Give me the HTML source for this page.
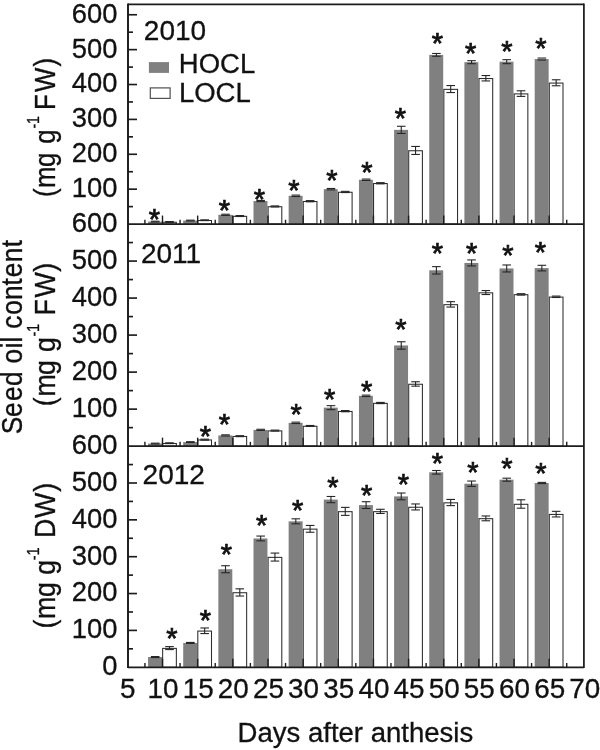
<!DOCTYPE html>
<html><head><meta charset="utf-8"><title>Seed oil content</title>
<style>html,body{margin:0;padding:0;background:#fff}svg{display:block;filter:blur(0.45px)}text{font-family:"Liberation Sans",Arial,sans-serif;fill:#111;stroke:#111;stroke-width:0.3px}</style>
</head><body>
<svg width="600" height="750" viewBox="0 0 600 750">
<rect x="0" y="0" width="600" height="750" fill="#fff"/>
<rect x="148.05" y="221.61" width="13.95" height="2.44" fill="#808080"/>
<rect x="162.65" y="222.26" width="13.7" height="1.79" fill="#fff" stroke="#2c2c2c" stroke-width="1.05"/>
<line x1="150.90" y1="221.21" x2="159.50" y2="221.21" stroke="#262626" stroke-width="1.1"/>
<line x1="150.90" y1="222.01" x2="159.50" y2="222.01" stroke="#262626" stroke-width="1.1"/>
<line x1="165.20" y1="221.56" x2="173.80" y2="221.56" stroke="#262626" stroke-width="1.1"/>
<line x1="165.20" y1="222.36" x2="173.80" y2="222.36" stroke="#262626" stroke-width="1.1"/>
<rect x="183.20" y="220.56" width="13.95" height="3.49" fill="#808080"/>
<rect x="197.80" y="220.51" width="13.7" height="3.54" fill="#fff" stroke="#2c2c2c" stroke-width="1.05"/>
<line x1="186.05" y1="220.16" x2="194.65" y2="220.16" stroke="#262626" stroke-width="1.1"/>
<line x1="186.05" y1="220.96" x2="194.65" y2="220.96" stroke="#262626" stroke-width="1.1"/>
<line x1="200.35" y1="219.81" x2="208.95" y2="219.81" stroke="#262626" stroke-width="1.1"/>
<line x1="200.35" y1="220.61" x2="208.95" y2="220.61" stroke="#262626" stroke-width="1.1"/>
<rect x="218.35" y="214.81" width="13.95" height="9.24" fill="#808080"/>
<rect x="232.95" y="216.33" width="13.7" height="7.72" fill="#fff" stroke="#2c2c2c" stroke-width="1.05"/>
<line x1="221.20" y1="214.21" x2="229.80" y2="214.21" stroke="#262626" stroke-width="1.1"/>
<line x1="221.20" y1="215.41" x2="229.80" y2="215.41" stroke="#262626" stroke-width="1.1"/>
<line x1="235.50" y1="215.53" x2="244.10" y2="215.53" stroke="#262626" stroke-width="1.1"/>
<line x1="235.50" y1="216.53" x2="244.10" y2="216.53" stroke="#262626" stroke-width="1.1"/>
<rect x="253.50" y="201.03" width="13.95" height="23.02" fill="#808080"/>
<rect x="268.10" y="206.73" width="13.7" height="17.32" fill="#fff" stroke="#2c2c2c" stroke-width="1.05"/>
<line x1="256.35" y1="200.43" x2="264.95" y2="200.43" stroke="#262626" stroke-width="1.1"/>
<line x1="256.35" y1="201.63" x2="264.95" y2="201.63" stroke="#262626" stroke-width="1.1"/>
<line x1="270.65" y1="205.93" x2="279.25" y2="205.93" stroke="#262626" stroke-width="1.1"/>
<line x1="270.65" y1="206.93" x2="279.25" y2="206.93" stroke="#262626" stroke-width="1.1"/>
<rect x="288.65" y="195.79" width="13.95" height="28.26" fill="#808080"/>
<rect x="303.25" y="201.50" width="13.7" height="22.55" fill="#fff" stroke="#2c2c2c" stroke-width="1.05"/>
<line x1="291.50" y1="195.09" x2="300.10" y2="195.09" stroke="#262626" stroke-width="1.1"/>
<line x1="291.50" y1="196.49" x2="300.10" y2="196.49" stroke="#262626" stroke-width="1.1"/>
<line x1="305.80" y1="200.60" x2="314.40" y2="200.60" stroke="#262626" stroke-width="1.1"/>
<line x1="305.80" y1="201.80" x2="314.40" y2="201.80" stroke="#262626" stroke-width="1.1"/>
<rect x="323.80" y="189.17" width="13.95" height="34.88" fill="#808080"/>
<rect x="338.40" y="192.26" width="13.7" height="31.79" fill="#fff" stroke="#2c2c2c" stroke-width="1.05"/>
<line x1="326.65" y1="188.47" x2="335.25" y2="188.47" stroke="#262626" stroke-width="1.1"/>
<line x1="326.65" y1="189.87" x2="335.25" y2="189.87" stroke="#262626" stroke-width="1.1"/>
<line x1="340.95" y1="191.36" x2="349.55" y2="191.36" stroke="#262626" stroke-width="1.1"/>
<line x1="340.95" y1="192.56" x2="349.55" y2="192.56" stroke="#262626" stroke-width="1.1"/>
<rect x="358.95" y="179.75" width="13.95" height="44.30" fill="#808080"/>
<rect x="373.55" y="183.54" width="13.7" height="40.51" fill="#fff" stroke="#2c2c2c" stroke-width="1.05"/>
<line x1="361.80" y1="179.05" x2="370.40" y2="179.05" stroke="#262626" stroke-width="1.1"/>
<line x1="361.80" y1="180.45" x2="370.40" y2="180.45" stroke="#262626" stroke-width="1.1"/>
<line x1="376.10" y1="182.64" x2="384.70" y2="182.64" stroke="#262626" stroke-width="1.1"/>
<line x1="376.10" y1="183.84" x2="384.70" y2="183.84" stroke="#262626" stroke-width="1.1"/>
<rect x="394.10" y="129.87" width="13.95" height="94.19" fill="#808080"/>
<rect x="408.70" y="150.75" width="13.7" height="73.30" fill="#fff" stroke="#2c2c2c" stroke-width="1.05"/>
<line x1="401.25" y1="126.27" x2="401.25" y2="133.47" stroke="#262626" stroke-width="1.1"/>
<line x1="396.95" y1="126.27" x2="405.55" y2="126.27" stroke="#262626" stroke-width="1.1"/>
<line x1="396.95" y1="133.47" x2="405.55" y2="133.47" stroke="#262626" stroke-width="1.1"/>
<line x1="415.55" y1="146.45" x2="415.55" y2="154.45" stroke="#262626" stroke-width="1.1"/>
<line x1="411.25" y1="146.45" x2="419.85" y2="146.45" stroke="#262626" stroke-width="1.1"/>
<line x1="411.25" y1="154.45" x2="419.85" y2="154.45" stroke="#262626" stroke-width="1.1"/>
<rect x="429.25" y="54.87" width="13.95" height="169.18" fill="#808080"/>
<rect x="443.85" y="89.35" width="13.7" height="134.70" fill="#fff" stroke="#2c2c2c" stroke-width="1.05"/>
<line x1="436.40" y1="53.47" x2="436.40" y2="56.27" stroke="#262626" stroke-width="1.1"/>
<line x1="432.10" y1="53.47" x2="440.70" y2="53.47" stroke="#262626" stroke-width="1.1"/>
<line x1="432.10" y1="56.27" x2="440.70" y2="56.27" stroke="#262626" stroke-width="1.1"/>
<line x1="450.70" y1="85.55" x2="450.70" y2="92.55" stroke="#262626" stroke-width="1.1"/>
<line x1="446.40" y1="85.55" x2="455.00" y2="85.55" stroke="#262626" stroke-width="1.1"/>
<line x1="446.40" y1="92.55" x2="455.00" y2="92.55" stroke="#262626" stroke-width="1.1"/>
<rect x="464.40" y="62.19" width="13.95" height="161.86" fill="#808080"/>
<rect x="479.00" y="78.54" width="13.7" height="145.51" fill="#fff" stroke="#2c2c2c" stroke-width="1.05"/>
<line x1="471.55" y1="60.69" x2="471.55" y2="63.69" stroke="#262626" stroke-width="1.1"/>
<line x1="467.25" y1="60.69" x2="475.85" y2="60.69" stroke="#262626" stroke-width="1.1"/>
<line x1="467.25" y1="63.69" x2="475.85" y2="63.69" stroke="#262626" stroke-width="1.1"/>
<line x1="485.85" y1="75.54" x2="485.85" y2="80.94" stroke="#262626" stroke-width="1.1"/>
<line x1="481.55" y1="75.54" x2="490.15" y2="75.54" stroke="#262626" stroke-width="1.1"/>
<line x1="481.55" y1="80.94" x2="490.15" y2="80.94" stroke="#262626" stroke-width="1.1"/>
<rect x="499.55" y="61.67" width="13.95" height="162.38" fill="#808080"/>
<rect x="514.15" y="93.89" width="13.7" height="130.16" fill="#fff" stroke="#2c2c2c" stroke-width="1.05"/>
<line x1="506.70" y1="59.67" x2="506.70" y2="63.67" stroke="#262626" stroke-width="1.1"/>
<line x1="502.40" y1="59.67" x2="511.00" y2="59.67" stroke="#262626" stroke-width="1.1"/>
<line x1="502.40" y1="63.67" x2="511.00" y2="63.67" stroke="#262626" stroke-width="1.1"/>
<line x1="521.00" y1="90.79" x2="521.00" y2="96.39" stroke="#262626" stroke-width="1.1"/>
<line x1="516.70" y1="90.79" x2="525.30" y2="90.79" stroke="#262626" stroke-width="1.1"/>
<line x1="516.70" y1="96.39" x2="525.30" y2="96.39" stroke="#262626" stroke-width="1.1"/>
<rect x="534.70" y="59.05" width="13.95" height="165.00" fill="#808080"/>
<rect x="549.30" y="83.07" width="13.7" height="140.98" fill="#fff" stroke="#2c2c2c" stroke-width="1.05"/>
<line x1="537.55" y1="58.05" x2="546.15" y2="58.05" stroke="#262626" stroke-width="1.1"/>
<line x1="537.55" y1="60.05" x2="546.15" y2="60.05" stroke="#262626" stroke-width="1.1"/>
<line x1="556.15" y1="79.77" x2="556.15" y2="85.77" stroke="#262626" stroke-width="1.1"/>
<line x1="551.85" y1="79.77" x2="560.45" y2="79.77" stroke="#262626" stroke-width="1.1"/>
<line x1="551.85" y1="85.77" x2="560.45" y2="85.77" stroke="#262626" stroke-width="1.1"/>
<rect x="148.05" y="443.56" width="13.95" height="2.59" fill="#808080"/>
<rect x="162.65" y="443.49" width="13.7" height="2.66" fill="#fff" stroke="#2c2c2c" stroke-width="1.05"/>
<line x1="150.90" y1="443.16" x2="159.50" y2="443.16" stroke="#262626" stroke-width="1.1"/>
<line x1="150.90" y1="443.96" x2="159.50" y2="443.96" stroke="#262626" stroke-width="1.1"/>
<line x1="165.20" y1="442.79" x2="173.80" y2="442.79" stroke="#262626" stroke-width="1.1"/>
<line x1="165.20" y1="443.59" x2="173.80" y2="443.59" stroke="#262626" stroke-width="1.1"/>
<rect x="183.20" y="442.08" width="13.95" height="4.07" fill="#808080"/>
<rect x="197.80" y="439.97" width="13.7" height="6.18" fill="#fff" stroke="#2c2c2c" stroke-width="1.05"/>
<line x1="186.05" y1="441.68" x2="194.65" y2="441.68" stroke="#262626" stroke-width="1.1"/>
<line x1="186.05" y1="442.48" x2="194.65" y2="442.48" stroke="#262626" stroke-width="1.1"/>
<line x1="200.35" y1="439.17" x2="208.95" y2="439.17" stroke="#262626" stroke-width="1.1"/>
<line x1="200.35" y1="440.17" x2="208.95" y2="440.17" stroke="#262626" stroke-width="1.1"/>
<rect x="218.35" y="435.42" width="13.95" height="10.73" fill="#808080"/>
<rect x="232.95" y="436.46" width="13.7" height="9.69" fill="#fff" stroke="#2c2c2c" stroke-width="1.05"/>
<line x1="221.20" y1="434.82" x2="229.80" y2="434.82" stroke="#262626" stroke-width="1.1"/>
<line x1="221.20" y1="436.02" x2="229.80" y2="436.02" stroke="#262626" stroke-width="1.1"/>
<line x1="235.50" y1="435.66" x2="244.10" y2="435.66" stroke="#262626" stroke-width="1.1"/>
<line x1="235.50" y1="436.66" x2="244.10" y2="436.66" stroke="#262626" stroke-width="1.1"/>
<rect x="253.50" y="429.86" width="13.95" height="16.29" fill="#808080"/>
<rect x="268.10" y="430.90" width="13.7" height="15.25" fill="#fff" stroke="#2c2c2c" stroke-width="1.05"/>
<line x1="256.35" y1="429.26" x2="264.95" y2="429.26" stroke="#262626" stroke-width="1.1"/>
<line x1="256.35" y1="430.46" x2="264.95" y2="430.46" stroke="#262626" stroke-width="1.1"/>
<line x1="270.65" y1="430.10" x2="279.25" y2="430.10" stroke="#262626" stroke-width="1.1"/>
<line x1="270.65" y1="431.10" x2="279.25" y2="431.10" stroke="#262626" stroke-width="1.1"/>
<rect x="288.65" y="422.83" width="13.95" height="23.32" fill="#808080"/>
<rect x="303.25" y="426.28" width="13.7" height="19.87" fill="#fff" stroke="#2c2c2c" stroke-width="1.05"/>
<line x1="291.50" y1="422.13" x2="300.10" y2="422.13" stroke="#262626" stroke-width="1.1"/>
<line x1="291.50" y1="423.53" x2="300.10" y2="423.53" stroke="#262626" stroke-width="1.1"/>
<line x1="305.80" y1="425.48" x2="314.40" y2="425.48" stroke="#262626" stroke-width="1.1"/>
<line x1="305.80" y1="426.48" x2="314.40" y2="426.48" stroke="#262626" stroke-width="1.1"/>
<rect x="323.80" y="407.65" width="13.95" height="38.50" fill="#808080"/>
<rect x="338.40" y="411.47" width="13.7" height="34.68" fill="#fff" stroke="#2c2c2c" stroke-width="1.05"/>
<line x1="330.95" y1="405.65" x2="330.95" y2="409.65" stroke="#262626" stroke-width="1.1"/>
<line x1="326.65" y1="405.65" x2="335.25" y2="405.65" stroke="#262626" stroke-width="1.1"/>
<line x1="326.65" y1="409.65" x2="335.25" y2="409.65" stroke="#262626" stroke-width="1.1"/>
<line x1="340.95" y1="410.57" x2="349.55" y2="410.57" stroke="#262626" stroke-width="1.1"/>
<line x1="340.95" y1="411.77" x2="349.55" y2="411.77" stroke="#262626" stroke-width="1.1"/>
<rect x="358.95" y="395.81" width="13.95" height="50.34" fill="#808080"/>
<rect x="373.55" y="403.33" width="13.7" height="42.82" fill="#fff" stroke="#2c2c2c" stroke-width="1.05"/>
<line x1="361.80" y1="395.11" x2="370.40" y2="395.11" stroke="#262626" stroke-width="1.1"/>
<line x1="361.80" y1="396.51" x2="370.40" y2="396.51" stroke="#262626" stroke-width="1.1"/>
<line x1="376.10" y1="402.43" x2="384.70" y2="402.43" stroke="#262626" stroke-width="1.1"/>
<line x1="376.10" y1="403.63" x2="384.70" y2="403.63" stroke="#262626" stroke-width="1.1"/>
<rect x="394.10" y="345.46" width="13.95" height="100.69" fill="#808080"/>
<rect x="408.70" y="384.26" width="13.7" height="61.89" fill="#fff" stroke="#2c2c2c" stroke-width="1.05"/>
<line x1="401.25" y1="341.76" x2="401.25" y2="349.16" stroke="#262626" stroke-width="1.1"/>
<line x1="396.95" y1="341.76" x2="405.55" y2="341.76" stroke="#262626" stroke-width="1.1"/>
<line x1="396.95" y1="349.16" x2="405.55" y2="349.16" stroke="#262626" stroke-width="1.1"/>
<line x1="415.55" y1="381.76" x2="415.55" y2="386.16" stroke="#262626" stroke-width="1.1"/>
<line x1="411.25" y1="381.76" x2="419.85" y2="381.76" stroke="#262626" stroke-width="1.1"/>
<line x1="411.25" y1="386.16" x2="419.85" y2="386.16" stroke="#262626" stroke-width="1.1"/>
<rect x="429.25" y="270.32" width="13.95" height="175.83" fill="#808080"/>
<rect x="443.85" y="304.68" width="13.7" height="141.47" fill="#fff" stroke="#2c2c2c" stroke-width="1.05"/>
<line x1="436.40" y1="266.62" x2="436.40" y2="274.02" stroke="#262626" stroke-width="1.1"/>
<line x1="432.10" y1="266.62" x2="440.70" y2="266.62" stroke="#262626" stroke-width="1.1"/>
<line x1="432.10" y1="274.02" x2="440.70" y2="274.02" stroke="#262626" stroke-width="1.1"/>
<line x1="450.70" y1="301.68" x2="450.70" y2="307.08" stroke="#262626" stroke-width="1.1"/>
<line x1="446.40" y1="301.68" x2="455.00" y2="301.68" stroke="#262626" stroke-width="1.1"/>
<line x1="446.40" y1="307.08" x2="455.00" y2="307.08" stroke="#262626" stroke-width="1.1"/>
<rect x="464.40" y="262.92" width="13.95" height="183.23" fill="#808080"/>
<rect x="479.00" y="292.83" width="13.7" height="153.32" fill="#fff" stroke="#2c2c2c" stroke-width="1.05"/>
<line x1="471.55" y1="259.92" x2="471.55" y2="265.92" stroke="#262626" stroke-width="1.1"/>
<line x1="467.25" y1="259.92" x2="475.85" y2="259.92" stroke="#262626" stroke-width="1.1"/>
<line x1="467.25" y1="265.92" x2="475.85" y2="265.92" stroke="#262626" stroke-width="1.1"/>
<line x1="485.85" y1="290.53" x2="485.85" y2="294.53" stroke="#262626" stroke-width="1.1"/>
<line x1="481.55" y1="290.53" x2="490.15" y2="290.53" stroke="#262626" stroke-width="1.1"/>
<line x1="481.55" y1="294.53" x2="490.15" y2="294.53" stroke="#262626" stroke-width="1.1"/>
<rect x="499.55" y="268.47" width="13.95" height="177.68" fill="#808080"/>
<rect x="514.15" y="294.68" width="13.7" height="151.47" fill="#fff" stroke="#2c2c2c" stroke-width="1.05"/>
<line x1="506.70" y1="264.97" x2="506.70" y2="271.97" stroke="#262626" stroke-width="1.1"/>
<line x1="502.40" y1="264.97" x2="511.00" y2="264.97" stroke="#262626" stroke-width="1.1"/>
<line x1="502.40" y1="271.97" x2="511.00" y2="271.97" stroke="#262626" stroke-width="1.1"/>
<line x1="516.70" y1="293.68" x2="525.30" y2="293.68" stroke="#262626" stroke-width="1.1"/>
<line x1="516.70" y1="295.08" x2="525.30" y2="295.08" stroke="#262626" stroke-width="1.1"/>
<rect x="534.70" y="268.10" width="13.95" height="178.05" fill="#808080"/>
<rect x="549.30" y="297.09" width="13.7" height="149.06" fill="#fff" stroke="#2c2c2c" stroke-width="1.05"/>
<line x1="541.85" y1="265.30" x2="541.85" y2="270.90" stroke="#262626" stroke-width="1.1"/>
<line x1="537.55" y1="265.30" x2="546.15" y2="265.30" stroke="#262626" stroke-width="1.1"/>
<line x1="537.55" y1="270.90" x2="546.15" y2="270.90" stroke="#262626" stroke-width="1.1"/>
<line x1="551.85" y1="296.09" x2="560.45" y2="296.09" stroke="#262626" stroke-width="1.1"/>
<line x1="551.85" y1="297.49" x2="560.45" y2="297.49" stroke="#262626" stroke-width="1.1"/>
<rect x="148.05" y="657.04" width="13.95" height="10.21" fill="#808080"/>
<rect x="162.65" y="648.39" width="13.7" height="18.86" fill="#fff" stroke="#2c2c2c" stroke-width="1.05"/>
<line x1="150.90" y1="656.54" x2="159.50" y2="656.54" stroke="#262626" stroke-width="1.1"/>
<line x1="150.90" y1="657.54" x2="159.50" y2="657.54" stroke="#262626" stroke-width="1.1"/>
<line x1="169.50" y1="646.59" x2="169.50" y2="649.59" stroke="#262626" stroke-width="1.1"/>
<line x1="165.20" y1="646.59" x2="173.80" y2="646.59" stroke="#262626" stroke-width="1.1"/>
<line x1="165.20" y1="649.59" x2="173.80" y2="649.59" stroke="#262626" stroke-width="1.1"/>
<rect x="183.20" y="642.93" width="13.95" height="24.32" fill="#808080"/>
<rect x="197.80" y="631.07" width="13.7" height="36.18" fill="#fff" stroke="#2c2c2c" stroke-width="1.05"/>
<line x1="186.05" y1="642.43" x2="194.65" y2="642.43" stroke="#262626" stroke-width="1.1"/>
<line x1="186.05" y1="643.43" x2="194.65" y2="643.43" stroke="#262626" stroke-width="1.1"/>
<line x1="204.65" y1="627.97" x2="204.65" y2="633.57" stroke="#262626" stroke-width="1.1"/>
<line x1="200.35" y1="627.97" x2="208.95" y2="627.97" stroke="#262626" stroke-width="1.1"/>
<line x1="200.35" y1="633.57" x2="208.95" y2="633.57" stroke="#262626" stroke-width="1.1"/>
<rect x="218.35" y="569.23" width="13.95" height="98.02" fill="#808080"/>
<rect x="232.95" y="592.74" width="13.7" height="74.51" fill="#fff" stroke="#2c2c2c" stroke-width="1.05"/>
<line x1="225.50" y1="565.73" x2="225.50" y2="572.73" stroke="#262626" stroke-width="1.1"/>
<line x1="221.20" y1="565.73" x2="229.80" y2="565.73" stroke="#262626" stroke-width="1.1"/>
<line x1="221.20" y1="572.73" x2="229.80" y2="572.73" stroke="#262626" stroke-width="1.1"/>
<line x1="239.80" y1="588.84" x2="239.80" y2="596.04" stroke="#262626" stroke-width="1.1"/>
<line x1="235.50" y1="588.84" x2="244.10" y2="588.84" stroke="#262626" stroke-width="1.1"/>
<line x1="235.50" y1="596.04" x2="244.10" y2="596.04" stroke="#262626" stroke-width="1.1"/>
<rect x="253.50" y="538.46" width="13.95" height="128.79" fill="#808080"/>
<rect x="268.10" y="557.37" width="13.7" height="109.88" fill="#fff" stroke="#2c2c2c" stroke-width="1.05"/>
<line x1="260.65" y1="536.06" x2="260.65" y2="540.86" stroke="#262626" stroke-width="1.1"/>
<line x1="256.35" y1="536.06" x2="264.95" y2="536.06" stroke="#262626" stroke-width="1.1"/>
<line x1="256.35" y1="540.86" x2="264.95" y2="540.86" stroke="#262626" stroke-width="1.1"/>
<line x1="274.95" y1="553.07" x2="274.95" y2="561.07" stroke="#262626" stroke-width="1.1"/>
<line x1="270.65" y1="553.07" x2="279.25" y2="553.07" stroke="#262626" stroke-width="1.1"/>
<line x1="270.65" y1="561.07" x2="279.25" y2="561.07" stroke="#262626" stroke-width="1.1"/>
<rect x="288.65" y="521.32" width="13.95" height="145.93" fill="#808080"/>
<rect x="303.25" y="529.14" width="13.7" height="138.11" fill="#fff" stroke="#2c2c2c" stroke-width="1.05"/>
<line x1="295.80" y1="518.82" x2="295.80" y2="523.82" stroke="#262626" stroke-width="1.1"/>
<line x1="291.50" y1="518.82" x2="300.10" y2="518.82" stroke="#262626" stroke-width="1.1"/>
<line x1="291.50" y1="523.82" x2="300.10" y2="523.82" stroke="#262626" stroke-width="1.1"/>
<line x1="310.10" y1="525.44" x2="310.10" y2="532.24" stroke="#262626" stroke-width="1.1"/>
<line x1="305.80" y1="525.44" x2="314.40" y2="525.44" stroke="#262626" stroke-width="1.1"/>
<line x1="305.80" y1="532.24" x2="314.40" y2="532.24" stroke="#262626" stroke-width="1.1"/>
<rect x="323.80" y="499.58" width="13.95" height="167.67" fill="#808080"/>
<rect x="338.40" y="511.67" width="13.7" height="155.58" fill="#fff" stroke="#2c2c2c" stroke-width="1.05"/>
<line x1="330.95" y1="496.48" x2="330.95" y2="502.68" stroke="#262626" stroke-width="1.1"/>
<line x1="326.65" y1="496.48" x2="335.25" y2="496.48" stroke="#262626" stroke-width="1.1"/>
<line x1="326.65" y1="502.68" x2="335.25" y2="502.68" stroke="#262626" stroke-width="1.1"/>
<line x1="345.25" y1="507.37" x2="345.25" y2="515.37" stroke="#262626" stroke-width="1.1"/>
<line x1="340.95" y1="507.37" x2="349.55" y2="507.37" stroke="#262626" stroke-width="1.1"/>
<line x1="340.95" y1="515.37" x2="349.55" y2="515.37" stroke="#262626" stroke-width="1.1"/>
<rect x="358.95" y="505.11" width="13.95" height="162.14" fill="#808080"/>
<rect x="373.55" y="511.67" width="13.7" height="155.58" fill="#fff" stroke="#2c2c2c" stroke-width="1.05"/>
<line x1="366.10" y1="501.71" x2="366.10" y2="508.51" stroke="#262626" stroke-width="1.1"/>
<line x1="361.80" y1="501.71" x2="370.40" y2="501.71" stroke="#262626" stroke-width="1.1"/>
<line x1="361.80" y1="508.51" x2="370.40" y2="508.51" stroke="#262626" stroke-width="1.1"/>
<line x1="380.40" y1="509.27" x2="380.40" y2="513.47" stroke="#262626" stroke-width="1.1"/>
<line x1="376.10" y1="509.27" x2="384.70" y2="509.27" stroke="#262626" stroke-width="1.1"/>
<line x1="376.10" y1="513.47" x2="384.70" y2="513.47" stroke="#262626" stroke-width="1.1"/>
<rect x="394.10" y="496.41" width="13.95" height="170.84" fill="#808080"/>
<rect x="408.70" y="507.25" width="13.7" height="160.00" fill="#fff" stroke="#2c2c2c" stroke-width="1.05"/>
<line x1="401.25" y1="493.01" x2="401.25" y2="499.81" stroke="#262626" stroke-width="1.1"/>
<line x1="396.95" y1="493.01" x2="405.55" y2="493.01" stroke="#262626" stroke-width="1.1"/>
<line x1="396.95" y1="499.81" x2="405.55" y2="499.81" stroke="#262626" stroke-width="1.1"/>
<line x1="415.55" y1="503.95" x2="415.55" y2="509.95" stroke="#262626" stroke-width="1.1"/>
<line x1="411.25" y1="503.95" x2="419.85" y2="503.95" stroke="#262626" stroke-width="1.1"/>
<line x1="411.25" y1="509.95" x2="419.85" y2="509.95" stroke="#262626" stroke-width="1.1"/>
<rect x="429.25" y="472.31" width="13.95" height="194.94" fill="#808080"/>
<rect x="443.85" y="502.83" width="13.7" height="164.42" fill="#fff" stroke="#2c2c2c" stroke-width="1.05"/>
<line x1="436.40" y1="470.51" x2="436.40" y2="474.11" stroke="#262626" stroke-width="1.1"/>
<line x1="432.10" y1="470.51" x2="440.70" y2="470.51" stroke="#262626" stroke-width="1.1"/>
<line x1="432.10" y1="474.11" x2="440.70" y2="474.11" stroke="#262626" stroke-width="1.1"/>
<line x1="450.70" y1="499.43" x2="450.70" y2="505.63" stroke="#262626" stroke-width="1.1"/>
<line x1="446.40" y1="499.43" x2="455.00" y2="499.43" stroke="#262626" stroke-width="1.1"/>
<line x1="446.40" y1="505.63" x2="455.00" y2="505.63" stroke="#262626" stroke-width="1.1"/>
<rect x="464.40" y="483.74" width="13.95" height="183.51" fill="#808080"/>
<rect x="479.00" y="518.68" width="13.7" height="148.57" fill="#fff" stroke="#2c2c2c" stroke-width="1.05"/>
<line x1="471.55" y1="481.04" x2="471.55" y2="486.44" stroke="#262626" stroke-width="1.1"/>
<line x1="467.25" y1="481.04" x2="475.85" y2="481.04" stroke="#262626" stroke-width="1.1"/>
<line x1="467.25" y1="486.44" x2="475.85" y2="486.44" stroke="#262626" stroke-width="1.1"/>
<line x1="485.85" y1="515.98" x2="485.85" y2="520.78" stroke="#262626" stroke-width="1.1"/>
<line x1="481.55" y1="515.98" x2="490.15" y2="515.98" stroke="#262626" stroke-width="1.1"/>
<line x1="481.55" y1="520.78" x2="490.15" y2="520.78" stroke="#262626" stroke-width="1.1"/>
<rect x="499.55" y="479.68" width="13.95" height="187.57" fill="#808080"/>
<rect x="514.15" y="504.30" width="13.7" height="162.95" fill="#fff" stroke="#2c2c2c" stroke-width="1.05"/>
<line x1="506.70" y1="478.18" x2="506.70" y2="481.18" stroke="#262626" stroke-width="1.1"/>
<line x1="502.40" y1="478.18" x2="511.00" y2="478.18" stroke="#262626" stroke-width="1.1"/>
<line x1="502.40" y1="481.18" x2="511.00" y2="481.18" stroke="#262626" stroke-width="1.1"/>
<line x1="521.00" y1="499.80" x2="521.00" y2="508.20" stroke="#262626" stroke-width="1.1"/>
<line x1="516.70" y1="499.80" x2="525.30" y2="499.80" stroke="#262626" stroke-width="1.1"/>
<line x1="516.70" y1="508.20" x2="525.30" y2="508.20" stroke="#262626" stroke-width="1.1"/>
<rect x="534.70" y="483.00" width="13.95" height="184.25" fill="#808080"/>
<rect x="549.30" y="514.44" width="13.7" height="152.81" fill="#fff" stroke="#2c2c2c" stroke-width="1.05"/>
<line x1="537.55" y1="482.40" x2="546.15" y2="482.40" stroke="#262626" stroke-width="1.1"/>
<line x1="537.55" y1="483.60" x2="546.15" y2="483.60" stroke="#262626" stroke-width="1.1"/>
<line x1="556.15" y1="511.34" x2="556.15" y2="516.94" stroke="#262626" stroke-width="1.1"/>
<line x1="551.85" y1="511.34" x2="560.45" y2="511.34" stroke="#262626" stroke-width="1.1"/>
<line x1="551.85" y1="516.94" x2="560.45" y2="516.94" stroke="#262626" stroke-width="1.1"/>
<line x1="128.00" y1="3.50" x2="128.00" y2="668.10" stroke="#1c1c1c" stroke-width="1.95"/>
<line x1="583.90" y1="3.50" x2="583.90" y2="668.10" stroke="#1c1c1c" stroke-width="1.75"/>
<line x1="128.00" y1="4.35" x2="583.90" y2="4.35" stroke="#1c1c1c" stroke-width="1.75"/>
<line x1="128.00" y1="224.05" x2="583.90" y2="224.05" stroke="#1c1c1c" stroke-width="1.75"/>
<line x1="128.00" y1="446.15" x2="583.90" y2="446.15" stroke="#1c1c1c" stroke-width="1.75"/>
<line x1="128.00" y1="667.25" x2="583.90" y2="667.25" stroke="#1c1c1c" stroke-width="1.75"/>
<line x1="128.00" y1="206.61" x2="133.00" y2="206.61" stroke="#1c1c1c" stroke-width="1.65"/>
<line x1="128.00" y1="189.17" x2="137.00" y2="189.17" stroke="#1c1c1c" stroke-width="1.65"/>
<line x1="128.00" y1="171.73" x2="133.00" y2="171.73" stroke="#1c1c1c" stroke-width="1.65"/>
<line x1="128.00" y1="154.28" x2="137.00" y2="154.28" stroke="#1c1c1c" stroke-width="1.65"/>
<line x1="128.00" y1="136.84" x2="133.00" y2="136.84" stroke="#1c1c1c" stroke-width="1.65"/>
<line x1="128.00" y1="119.40" x2="137.00" y2="119.40" stroke="#1c1c1c" stroke-width="1.65"/>
<line x1="128.00" y1="101.96" x2="133.00" y2="101.96" stroke="#1c1c1c" stroke-width="1.65"/>
<line x1="128.00" y1="84.52" x2="137.00" y2="84.52" stroke="#1c1c1c" stroke-width="1.65"/>
<line x1="128.00" y1="67.08" x2="133.00" y2="67.08" stroke="#1c1c1c" stroke-width="1.65"/>
<line x1="128.00" y1="49.63" x2="137.00" y2="49.63" stroke="#1c1c1c" stroke-width="1.65"/>
<line x1="128.00" y1="32.19" x2="133.00" y2="32.19" stroke="#1c1c1c" stroke-width="1.65"/>
<line x1="128.00" y1="14.75" x2="137.00" y2="14.75" stroke="#1c1c1c" stroke-width="1.65"/>
<line x1="128.00" y1="427.64" x2="133.00" y2="427.64" stroke="#1c1c1c" stroke-width="1.65"/>
<line x1="128.00" y1="409.13" x2="137.00" y2="409.13" stroke="#1c1c1c" stroke-width="1.65"/>
<line x1="128.00" y1="390.62" x2="133.00" y2="390.62" stroke="#1c1c1c" stroke-width="1.65"/>
<line x1="128.00" y1="372.12" x2="137.00" y2="372.12" stroke="#1c1c1c" stroke-width="1.65"/>
<line x1="128.00" y1="353.61" x2="133.00" y2="353.61" stroke="#1c1c1c" stroke-width="1.65"/>
<line x1="128.00" y1="335.10" x2="137.00" y2="335.10" stroke="#1c1c1c" stroke-width="1.65"/>
<line x1="128.00" y1="316.59" x2="133.00" y2="316.59" stroke="#1c1c1c" stroke-width="1.65"/>
<line x1="128.00" y1="298.08" x2="137.00" y2="298.08" stroke="#1c1c1c" stroke-width="1.65"/>
<line x1="128.00" y1="279.58" x2="133.00" y2="279.58" stroke="#1c1c1c" stroke-width="1.65"/>
<line x1="128.00" y1="261.07" x2="137.00" y2="261.07" stroke="#1c1c1c" stroke-width="1.65"/>
<line x1="128.00" y1="242.56" x2="133.00" y2="242.56" stroke="#1c1c1c" stroke-width="1.65"/>
<line x1="128.00" y1="648.83" x2="133.00" y2="648.83" stroke="#1c1c1c" stroke-width="1.65"/>
<line x1="128.00" y1="630.40" x2="137.00" y2="630.40" stroke="#1c1c1c" stroke-width="1.65"/>
<line x1="128.00" y1="611.98" x2="133.00" y2="611.98" stroke="#1c1c1c" stroke-width="1.65"/>
<line x1="128.00" y1="593.55" x2="137.00" y2="593.55" stroke="#1c1c1c" stroke-width="1.65"/>
<line x1="128.00" y1="575.12" x2="133.00" y2="575.12" stroke="#1c1c1c" stroke-width="1.65"/>
<line x1="128.00" y1="556.70" x2="137.00" y2="556.70" stroke="#1c1c1c" stroke-width="1.65"/>
<line x1="128.00" y1="538.27" x2="133.00" y2="538.27" stroke="#1c1c1c" stroke-width="1.65"/>
<line x1="128.00" y1="519.85" x2="137.00" y2="519.85" stroke="#1c1c1c" stroke-width="1.65"/>
<line x1="128.00" y1="501.42" x2="133.00" y2="501.42" stroke="#1c1c1c" stroke-width="1.65"/>
<line x1="128.00" y1="483.00" x2="137.00" y2="483.00" stroke="#1c1c1c" stroke-width="1.65"/>
<line x1="128.00" y1="464.57" x2="133.00" y2="464.57" stroke="#1c1c1c" stroke-width="1.65"/>
<line x1="144.92" y1="224.05" x2="144.92" y2="219.75" stroke="#1c1c1c" stroke-width="1.4"/>
<line x1="162.50" y1="224.05" x2="162.50" y2="215.55" stroke="#1c1c1c" stroke-width="1.4"/>
<line x1="180.07" y1="224.05" x2="180.07" y2="219.75" stroke="#1c1c1c" stroke-width="1.4"/>
<line x1="197.65" y1="224.05" x2="197.65" y2="215.55" stroke="#1c1c1c" stroke-width="1.4"/>
<line x1="215.22" y1="224.05" x2="215.22" y2="219.75" stroke="#1c1c1c" stroke-width="1.4"/>
<line x1="232.80" y1="224.05" x2="232.80" y2="215.55" stroke="#1c1c1c" stroke-width="1.4"/>
<line x1="250.38" y1="224.05" x2="250.38" y2="219.75" stroke="#1c1c1c" stroke-width="1.4"/>
<line x1="267.95" y1="224.05" x2="267.95" y2="215.55" stroke="#1c1c1c" stroke-width="1.4"/>
<line x1="285.52" y1="224.05" x2="285.52" y2="219.75" stroke="#1c1c1c" stroke-width="1.4"/>
<line x1="303.10" y1="224.05" x2="303.10" y2="215.55" stroke="#1c1c1c" stroke-width="1.4"/>
<line x1="320.68" y1="224.05" x2="320.68" y2="219.75" stroke="#1c1c1c" stroke-width="1.4"/>
<line x1="338.25" y1="224.05" x2="338.25" y2="215.55" stroke="#1c1c1c" stroke-width="1.4"/>
<line x1="355.82" y1="224.05" x2="355.82" y2="219.75" stroke="#1c1c1c" stroke-width="1.4"/>
<line x1="373.40" y1="224.05" x2="373.40" y2="215.55" stroke="#1c1c1c" stroke-width="1.4"/>
<line x1="390.98" y1="224.05" x2="390.98" y2="219.75" stroke="#1c1c1c" stroke-width="1.4"/>
<line x1="408.55" y1="224.05" x2="408.55" y2="215.55" stroke="#1c1c1c" stroke-width="1.4"/>
<line x1="426.12" y1="224.05" x2="426.12" y2="219.75" stroke="#1c1c1c" stroke-width="1.4"/>
<line x1="443.70" y1="224.05" x2="443.70" y2="215.55" stroke="#1c1c1c" stroke-width="1.4"/>
<line x1="461.27" y1="224.05" x2="461.27" y2="219.75" stroke="#1c1c1c" stroke-width="1.4"/>
<line x1="478.85" y1="224.05" x2="478.85" y2="215.55" stroke="#1c1c1c" stroke-width="1.4"/>
<line x1="496.42" y1="224.05" x2="496.42" y2="219.75" stroke="#1c1c1c" stroke-width="1.4"/>
<line x1="514.00" y1="224.05" x2="514.00" y2="215.55" stroke="#1c1c1c" stroke-width="1.4"/>
<line x1="531.58" y1="224.05" x2="531.58" y2="219.75" stroke="#1c1c1c" stroke-width="1.4"/>
<line x1="549.15" y1="224.05" x2="549.15" y2="215.55" stroke="#1c1c1c" stroke-width="1.4"/>
<line x1="566.73" y1="224.05" x2="566.73" y2="219.75" stroke="#1c1c1c" stroke-width="1.4"/>
<line x1="144.92" y1="446.15" x2="144.92" y2="441.85" stroke="#1c1c1c" stroke-width="1.4"/>
<line x1="162.50" y1="446.15" x2="162.50" y2="437.65" stroke="#1c1c1c" stroke-width="1.4"/>
<line x1="180.07" y1="446.15" x2="180.07" y2="441.85" stroke="#1c1c1c" stroke-width="1.4"/>
<line x1="197.65" y1="446.15" x2="197.65" y2="437.65" stroke="#1c1c1c" stroke-width="1.4"/>
<line x1="215.22" y1="446.15" x2="215.22" y2="441.85" stroke="#1c1c1c" stroke-width="1.4"/>
<line x1="232.80" y1="446.15" x2="232.80" y2="437.65" stroke="#1c1c1c" stroke-width="1.4"/>
<line x1="250.38" y1="446.15" x2="250.38" y2="441.85" stroke="#1c1c1c" stroke-width="1.4"/>
<line x1="267.95" y1="446.15" x2="267.95" y2="437.65" stroke="#1c1c1c" stroke-width="1.4"/>
<line x1="285.52" y1="446.15" x2="285.52" y2="441.85" stroke="#1c1c1c" stroke-width="1.4"/>
<line x1="303.10" y1="446.15" x2="303.10" y2="437.65" stroke="#1c1c1c" stroke-width="1.4"/>
<line x1="320.68" y1="446.15" x2="320.68" y2="441.85" stroke="#1c1c1c" stroke-width="1.4"/>
<line x1="338.25" y1="446.15" x2="338.25" y2="437.65" stroke="#1c1c1c" stroke-width="1.4"/>
<line x1="355.82" y1="446.15" x2="355.82" y2="441.85" stroke="#1c1c1c" stroke-width="1.4"/>
<line x1="373.40" y1="446.15" x2="373.40" y2="437.65" stroke="#1c1c1c" stroke-width="1.4"/>
<line x1="390.98" y1="446.15" x2="390.98" y2="441.85" stroke="#1c1c1c" stroke-width="1.4"/>
<line x1="408.55" y1="446.15" x2="408.55" y2="437.65" stroke="#1c1c1c" stroke-width="1.4"/>
<line x1="426.12" y1="446.15" x2="426.12" y2="441.85" stroke="#1c1c1c" stroke-width="1.4"/>
<line x1="443.70" y1="446.15" x2="443.70" y2="437.65" stroke="#1c1c1c" stroke-width="1.4"/>
<line x1="461.27" y1="446.15" x2="461.27" y2="441.85" stroke="#1c1c1c" stroke-width="1.4"/>
<line x1="478.85" y1="446.15" x2="478.85" y2="437.65" stroke="#1c1c1c" stroke-width="1.4"/>
<line x1="496.42" y1="446.15" x2="496.42" y2="441.85" stroke="#1c1c1c" stroke-width="1.4"/>
<line x1="514.00" y1="446.15" x2="514.00" y2="437.65" stroke="#1c1c1c" stroke-width="1.4"/>
<line x1="531.58" y1="446.15" x2="531.58" y2="441.85" stroke="#1c1c1c" stroke-width="1.4"/>
<line x1="549.15" y1="446.15" x2="549.15" y2="437.65" stroke="#1c1c1c" stroke-width="1.4"/>
<line x1="566.73" y1="446.15" x2="566.73" y2="441.85" stroke="#1c1c1c" stroke-width="1.4"/>
<line x1="144.92" y1="667.25" x2="144.92" y2="662.95" stroke="#1c1c1c" stroke-width="1.4"/>
<line x1="162.50" y1="667.25" x2="162.50" y2="658.75" stroke="#1c1c1c" stroke-width="1.4"/>
<line x1="180.07" y1="667.25" x2="180.07" y2="662.95" stroke="#1c1c1c" stroke-width="1.4"/>
<line x1="197.65" y1="667.25" x2="197.65" y2="658.75" stroke="#1c1c1c" stroke-width="1.4"/>
<line x1="215.22" y1="667.25" x2="215.22" y2="662.95" stroke="#1c1c1c" stroke-width="1.4"/>
<line x1="232.80" y1="667.25" x2="232.80" y2="658.75" stroke="#1c1c1c" stroke-width="1.4"/>
<line x1="250.38" y1="667.25" x2="250.38" y2="662.95" stroke="#1c1c1c" stroke-width="1.4"/>
<line x1="267.95" y1="667.25" x2="267.95" y2="658.75" stroke="#1c1c1c" stroke-width="1.4"/>
<line x1="285.52" y1="667.25" x2="285.52" y2="662.95" stroke="#1c1c1c" stroke-width="1.4"/>
<line x1="303.10" y1="667.25" x2="303.10" y2="658.75" stroke="#1c1c1c" stroke-width="1.4"/>
<line x1="320.68" y1="667.25" x2="320.68" y2="662.95" stroke="#1c1c1c" stroke-width="1.4"/>
<line x1="338.25" y1="667.25" x2="338.25" y2="658.75" stroke="#1c1c1c" stroke-width="1.4"/>
<line x1="355.82" y1="667.25" x2="355.82" y2="662.95" stroke="#1c1c1c" stroke-width="1.4"/>
<line x1="373.40" y1="667.25" x2="373.40" y2="658.75" stroke="#1c1c1c" stroke-width="1.4"/>
<line x1="390.98" y1="667.25" x2="390.98" y2="662.95" stroke="#1c1c1c" stroke-width="1.4"/>
<line x1="408.55" y1="667.25" x2="408.55" y2="658.75" stroke="#1c1c1c" stroke-width="1.4"/>
<line x1="426.12" y1="667.25" x2="426.12" y2="662.95" stroke="#1c1c1c" stroke-width="1.4"/>
<line x1="443.70" y1="667.25" x2="443.70" y2="658.75" stroke="#1c1c1c" stroke-width="1.4"/>
<line x1="461.27" y1="667.25" x2="461.27" y2="662.95" stroke="#1c1c1c" stroke-width="1.4"/>
<line x1="478.85" y1="667.25" x2="478.85" y2="658.75" stroke="#1c1c1c" stroke-width="1.4"/>
<line x1="496.42" y1="667.25" x2="496.42" y2="662.95" stroke="#1c1c1c" stroke-width="1.4"/>
<line x1="514.00" y1="667.25" x2="514.00" y2="658.75" stroke="#1c1c1c" stroke-width="1.4"/>
<line x1="531.58" y1="667.25" x2="531.58" y2="662.95" stroke="#1c1c1c" stroke-width="1.4"/>
<line x1="549.15" y1="667.25" x2="549.15" y2="658.75" stroke="#1c1c1c" stroke-width="1.4"/>
<line x1="566.73" y1="667.25" x2="566.73" y2="662.95" stroke="#1c1c1c" stroke-width="1.4"/>
<text transform="translate(117.40 197.07) scale(0.985 1)" font-size="27.8" text-anchor="end" >100</text>
<text transform="translate(117.40 162.18) scale(0.985 1)" font-size="27.8" text-anchor="end" >200</text>
<text transform="translate(117.40 127.30) scale(0.985 1)" font-size="27.8" text-anchor="end" >300</text>
<text transform="translate(117.40 92.42) scale(0.985 1)" font-size="27.8" text-anchor="end" >400</text>
<text transform="translate(117.40 57.53) scale(0.985 1)" font-size="27.8" text-anchor="end" >500</text>
<text transform="translate(117.40 22.65) scale(0.985 1)" font-size="27.8" text-anchor="end" >600</text>
<text transform="translate(117.40 417.03) scale(0.985 1)" font-size="27.8" text-anchor="end" >100</text>
<text transform="translate(117.40 380.02) scale(0.985 1)" font-size="27.8" text-anchor="end" >200</text>
<text transform="translate(117.40 343.00) scale(0.985 1)" font-size="27.8" text-anchor="end" >300</text>
<text transform="translate(117.40 305.98) scale(0.985 1)" font-size="27.8" text-anchor="end" >400</text>
<text transform="translate(117.40 268.97) scale(0.985 1)" font-size="27.8" text-anchor="end" >500</text>
<text transform="translate(117.40 231.95) scale(0.985 1)" font-size="27.8" text-anchor="end" >600</text>
<text transform="translate(117.40 675.15) scale(0.985 1)" font-size="27.8" text-anchor="end" >0</text>
<text transform="translate(117.40 638.30) scale(0.985 1)" font-size="27.8" text-anchor="end" >100</text>
<text transform="translate(117.40 601.45) scale(0.985 1)" font-size="27.8" text-anchor="end" >200</text>
<text transform="translate(117.40 564.60) scale(0.985 1)" font-size="27.8" text-anchor="end" >300</text>
<text transform="translate(117.40 527.75) scale(0.985 1)" font-size="27.8" text-anchor="end" >400</text>
<text transform="translate(117.40 490.90) scale(0.985 1)" font-size="27.8" text-anchor="end" >500</text>
<text transform="translate(117.40 454.05) scale(0.985 1)" font-size="27.8" text-anchor="end" >600</text>
<text transform="translate(127.85 697.60) scale(1.02 1)" font-size="27.3" text-anchor="middle" >5</text>
<text transform="translate(163.00 697.60) scale(1.02 1)" font-size="27.3" text-anchor="middle" >10</text>
<text transform="translate(198.15 697.60) scale(1.02 1)" font-size="27.3" text-anchor="middle" >15</text>
<text transform="translate(233.30 697.60) scale(1.02 1)" font-size="27.3" text-anchor="middle" >20</text>
<text transform="translate(268.45 697.60) scale(1.02 1)" font-size="27.3" text-anchor="middle" >25</text>
<text transform="translate(303.60 697.60) scale(1.02 1)" font-size="27.3" text-anchor="middle" >30</text>
<text transform="translate(338.75 697.60) scale(1.02 1)" font-size="27.3" text-anchor="middle" >35</text>
<text transform="translate(373.90 697.60) scale(1.02 1)" font-size="27.3" text-anchor="middle" >40</text>
<text transform="translate(409.05 697.60) scale(1.02 1)" font-size="27.3" text-anchor="middle" >45</text>
<text transform="translate(444.20 697.60) scale(1.02 1)" font-size="27.3" text-anchor="middle" >50</text>
<text transform="translate(479.35 697.60) scale(1.02 1)" font-size="27.3" text-anchor="middle" >55</text>
<text transform="translate(514.50 697.60) scale(1.02 1)" font-size="27.3" text-anchor="middle" >60</text>
<text transform="translate(549.65 697.60) scale(1.02 1)" font-size="27.3" text-anchor="middle" >65</text>
<text transform="translate(584.80 697.60) scale(1.02 1)" font-size="27.3" text-anchor="middle" >70</text>
<text transform="translate(355.40 742.00) scale(1.005 1)" font-size="27.4" text-anchor="middle" >Days after anthesis</text>
<text transform="translate(143.80 39.90) scale(1.005 1)" font-size="27.9" text-anchor="start" >2010</text>
<text transform="translate(140.90 263.40) scale(1.005 1)" font-size="27.9" text-anchor="start" >2011</text>
<text transform="translate(142.60 484.40) scale(1.005 1)" font-size="27.9" text-anchor="start" >2012</text>
<rect x="148.9" y="62.1" width="20.1" height="10.8" fill="#808080"/>
<rect x="150.3" y="87.9" width="19.8" height="10.5" fill="#fff" stroke="#505050" stroke-width="1.2"/>
<text transform="translate(178.80 73.20) scale(0.99 1)" font-size="27.8" text-anchor="start" >HOCL</text>
<text transform="translate(178.90 101.60) scale(0.99 1)" font-size="27.8" text-anchor="start" >LOCL</text>
<text transform="translate(154.50 228.50) scale(1.0 1)" font-size="29.0" text-anchor="middle" style="stroke-width:0.75px">*</text>
<text transform="translate(224.50 219.90) scale(1.0 1)" font-size="29.0" text-anchor="middle" style="stroke-width:0.75px">*</text>
<text transform="translate(259.50 208.50) scale(1.0 1)" font-size="29.0" text-anchor="middle" style="stroke-width:0.75px">*</text>
<text transform="translate(293.90 199.70) scale(1.0 1)" font-size="29.0" text-anchor="middle" style="stroke-width:0.75px">*</text>
<text transform="translate(331.80 190.20) scale(1.0 1)" font-size="29.0" text-anchor="middle" style="stroke-width:0.75px">*</text>
<text transform="translate(366.90 181.70) scale(1.0 1)" font-size="29.0" text-anchor="middle" style="stroke-width:0.75px">*</text>
<text transform="translate(400.40 127.60) scale(1.0 1)" font-size="29.0" text-anchor="middle" style="stroke-width:0.75px">*</text>
<text transform="translate(437.40 53.20) scale(1.0 1)" font-size="29.0" text-anchor="middle" style="stroke-width:0.75px">*</text>
<text transform="translate(470.60 63.30) scale(1.0 1)" font-size="29.0" text-anchor="middle" style="stroke-width:0.75px">*</text>
<text transform="translate(507.00 61.10) scale(1.0 1)" font-size="29.0" text-anchor="middle" style="stroke-width:0.75px">*</text>
<text transform="translate(541.00 57.50) scale(1.0 1)" font-size="29.0" text-anchor="middle" style="stroke-width:0.75px">*</text>
<text transform="translate(205.50 445.50) scale(1.0 1)" font-size="29.0" text-anchor="middle" style="stroke-width:0.75px">*</text>
<text transform="translate(224.50 433.50) scale(1.0 1)" font-size="29.0" text-anchor="middle" style="stroke-width:0.75px">*</text>
<text transform="translate(296.20 424.30) scale(1.0 1)" font-size="29.0" text-anchor="middle" style="stroke-width:0.75px">*</text>
<text transform="translate(329.60 409.40) scale(1.0 1)" font-size="29.0" text-anchor="middle" style="stroke-width:0.75px">*</text>
<text transform="translate(366.60 400.50) scale(1.0 1)" font-size="29.0" text-anchor="middle" style="stroke-width:0.75px">*</text>
<text transform="translate(401.00 339.10) scale(1.0 1)" font-size="29.0" text-anchor="middle" style="stroke-width:0.75px">*</text>
<text transform="translate(437.40 263.40) scale(1.0 1)" font-size="29.0" text-anchor="middle" style="stroke-width:0.75px">*</text>
<text transform="translate(471.60 262.50) scale(1.0 1)" font-size="29.0" text-anchor="middle" style="stroke-width:0.75px">*</text>
<text transform="translate(508.00 265.00) scale(1.0 1)" font-size="29.0" text-anchor="middle" style="stroke-width:0.75px">*</text>
<text transform="translate(540.30 261.60) scale(1.0 1)" font-size="29.0" text-anchor="middle" style="stroke-width:0.75px">*</text>
<text transform="translate(171.80 648.40) scale(1.0 1)" font-size="29.0" text-anchor="middle" style="stroke-width:0.75px">*</text>
<text transform="translate(205.40 629.50) scale(1.0 1)" font-size="29.0" text-anchor="middle" style="stroke-width:0.75px">*</text>
<text transform="translate(226.30 564.40) scale(1.0 1)" font-size="29.0" text-anchor="middle" style="stroke-width:0.75px">*</text>
<text transform="translate(261.60 535.10) scale(1.0 1)" font-size="29.0" text-anchor="middle" style="stroke-width:0.75px">*</text>
<text transform="translate(297.60 520.10) scale(1.0 1)" font-size="29.0" text-anchor="middle" style="stroke-width:0.75px">*</text>
<text transform="translate(333.00 497.10) scale(1.0 1)" font-size="29.0" text-anchor="middle" style="stroke-width:0.75px">*</text>
<text transform="translate(366.60 504.60) scale(1.0 1)" font-size="29.0" text-anchor="middle" style="stroke-width:0.75px">*</text>
<text transform="translate(403.50 494.10) scale(1.0 1)" font-size="29.0" text-anchor="middle" style="stroke-width:0.75px">*</text>
<text transform="translate(437.40 473.10) scale(1.0 1)" font-size="29.0" text-anchor="middle" style="stroke-width:0.75px">*</text>
<text transform="translate(473.00 481.70) scale(1.0 1)" font-size="29.0" text-anchor="middle" style="stroke-width:0.75px">*</text>
<text transform="translate(507.00 478.10) scale(1.0 1)" font-size="29.0" text-anchor="middle" style="stroke-width:0.75px">*</text>
<text transform="translate(541.00 483.30) scale(1.0 1)" font-size="29.0" text-anchor="middle" style="stroke-width:0.75px">*</text>
<text transform="translate(54.70 0) rotate(-90) scale(1 1.13)" font-size="25.8"><tspan x="-196.9 -187.9 -166.9 -152.5 -143.7">(mg g</tspan><tspan font-size="14.2" dy="-13.6" x="-128.6 -124.1">-1</tspan><tspan dy="13.6" x="-116.0 -109.9 -92.0 -66.4"> FW)</tspan></text>
<text transform="translate(54.80 0) rotate(-90) scale(1 1.13)" font-size="26.8"><tspan x="-406.3 -396.6 -374.9 -360.0 -352.0">(mg g</tspan><tspan font-size="14.6" dy="-13.7" x="-336.6 -332.0">-1</tspan><tspan dy="13.7" x="-323.7 -315.4 -297.6 -271.7"> FW)</tspan></text>
<text transform="translate(54.80 0) rotate(-90) scale(1 1.13)" font-size="26.8"><tspan x="-628.6 -619.0 -597.1 -582.2 -574.8">(mg g</tspan><tspan font-size="14.6" dy="-13.7" x="-560.2 -555.5">-1</tspan><tspan dy="13.7" x="-547.1 -537.9 -517.9 -491.7"> DW)</tspan></text>
<text transform="translate(22.2 0) rotate(-90) scale(1 1.13)" font-size="26.3" x="-434.2 -416.9 -400.9 -386.0 -371.4 -363.4 -348.2 -342.4 -336.6 -328.7 -314.7 -300.0 -285.4 -277.3 -262.2 -247.2">Seed oil content</text>
</svg>
</body></html>
